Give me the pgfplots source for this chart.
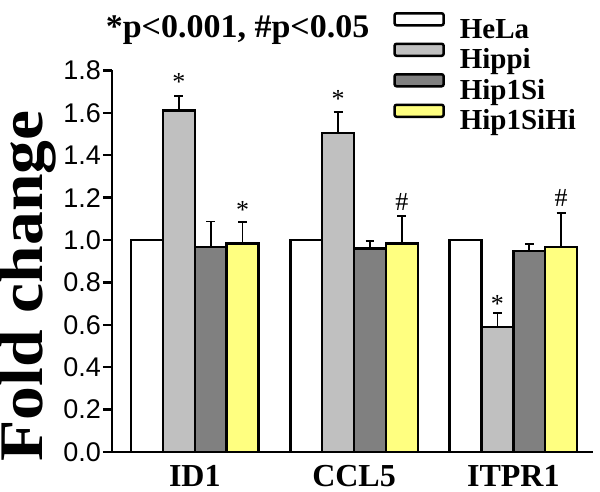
\documentclass[border=0pt]{standalone}
\usepackage{fontspec}
\setmainfont{Liberation Serif}
\setsansfont{Liberation Sans}
\usepackage{pgfplots}
\pgfplotsset{compat=1.18}
\definecolor{cHippi}{RGB}{192,192,192}
\definecolor{cSi}{RGB}{128,128,128}
\definecolor{cYel}{RGB}{255,255,128}
\begin{document}
\begin{tikzpicture}
\begin{axis}[
  scale only axis,
  clip=false,
  width=240.5pt, height=190.8pt,
  xmin=-0.52, xmax=2.5,
  ymin=0, ymax=1.8,
  axis lines=left,
  axis line style={-, line width=1.2pt},
  xtick={0,1,2},
  xticklabels={ID1,CCL5,ITPR1},
  x tick style={draw=none},
  major tick length=4.5pt,
  tick align=outside,
  y tick style={line width=1.2pt, black},
  ytick={0,0.2,...,1.8},
  yticklabel style={font=\sffamily\fontsize{13.5}{13.5}\selectfont, inner sep=0.8pt},
  xticklabel style={font=\bfseries\fontsize{16}{16}\selectfont, yshift=1.5pt},
  /pgf/number format/.cd, fixed, fixed zerofill, precision=1, assume math mode=true,
  /pgfplots/.cd,
  ylabel={\bfseries Fold change},
  ylabel style={font=\fontsize{31}{31}\selectfont, inner sep=0pt, outer sep=0pt, at={(axis description cs:-0.1435,0.435)}, anchor=base, xscale=1.09},
  ybar, bar width=0.2,
  error bars/y dir=plus, error bars/y explicit,
  error bars/error bar style={line width=0.8pt, black},
  error bars/error mark options={line width=0.8pt, black, mark size=2.2pt, rotate=90},
  legend image code/.code={\draw[#1, line width=1.25pt, rounded corners=1pt] (0pt,2.5pt) rectangle (24.5pt,8.5pt);},
  legend style={draw=none, fill=none, inner sep=0pt, outer sep=0pt, row sep=0pt,
    font=\bfseries\fontsize{14.5}{14.5}\selectfont,
    nodes={inner sep=0pt, outer sep=0pt, text height=10pt, text depth=2.25pt},
    at={(axis description cs:0.585,1.153)}, anchor=north west,
    /tikz/every odd column/.append style={column sep=7.5pt}},
  legend cell align=left,
]
\addplot[bar shift=0pt, draw=black, line width=1.25pt, fill=white] coordinates {(-0.3,1.0) (0.7,1.0) (1.7,1.0)};
\addplot[bar shift=0pt, draw=black, line width=1.25pt, fill=cHippi] coordinates {(-0.1,1.61) +- (0,0.07) (0.9,1.505) +- (0,0.10) (1.9,0.59) +- (0,0.065)};
\addplot[bar shift=0pt, draw=black, line width=1.25pt, fill=cSi] coordinates {(0.1,0.968) +- (0,0.12) (1.1,0.96) +- (0,0.035) (2.1,0.948) +- (0,0.033)};
\addplot[bar shift=0pt, draw=black, line width=1.25pt, fill=cYel] coordinates {(0.3,0.984) +- (0,0.10) (1.3,0.984) +- (0,0.13) (2.3,0.968) +- (0,0.16)};
\legend{HeLa,Hippi,Hip1Si,Hip1SiHi}
\node[font=\fontsize{13}{13}\selectfont, anchor=center] at (axis cs:-0.1,1.745) {*};
\node[font=\fontsize{13}{13}\selectfont, anchor=center] at (axis cs:0.3,1.14) {*};
\node[font=\fontsize{13}{13}\selectfont, anchor=center] at (axis cs:0.9,1.665) {*};
\node[font=\fontsize{13}{13}\selectfont, anchor=center] at (axis cs:1.3,1.18) {\#};
\node[font=\fontsize{13}{13}\selectfont, anchor=center] at (axis cs:1.9,0.70) {*};
\node[font=\fontsize{13}{13}\selectfont, anchor=center] at (axis cs:2.3,1.20) {\#};
\node[font=\bfseries\fontsize{16.5}{16.5}\selectfont, anchor=base, xscale=1.03] at (axis description cs:0.261,1.0875) {*p<0.001, \#p<0.05};
\coordinate (bbSW) at (axis description cs:-0.2328,-0.1048);
\coordinate (bbNE) at (axis description cs:1.0146,1.1845);
\end{axis}
\pgfresetboundingbox
\path[use as bounding box] (bbSW) rectangle (bbNE);
\end{tikzpicture}
\end{document}
